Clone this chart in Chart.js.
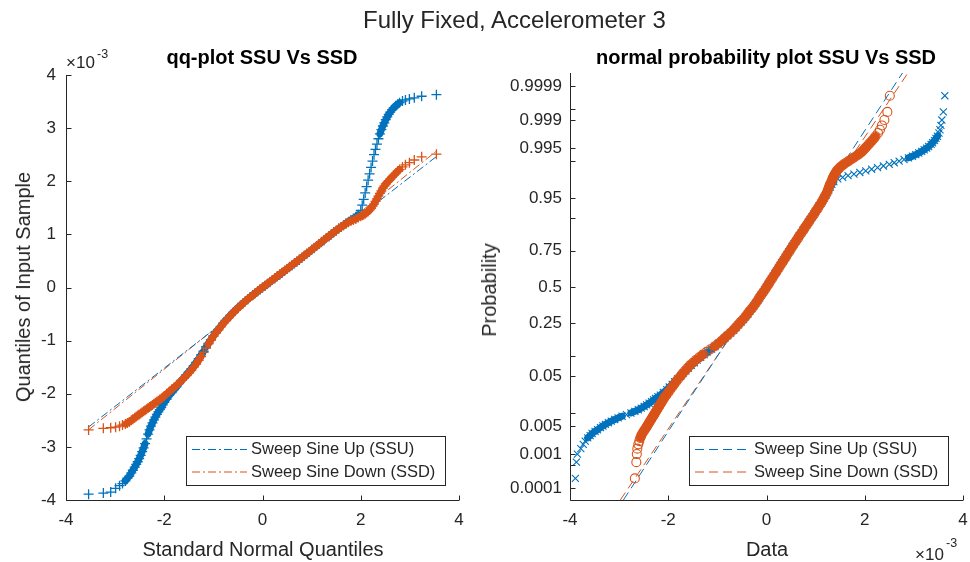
<!DOCTYPE html>
<html>
<head>
<meta charset="utf-8">
<script src="https://cdn.jsdelivr.net/npm/chart.js@4/dist/chart.umd.min.js"></script>
<style>
  body { margin: 0; background: #fff; }
  #fig { position: relative; width: 970px; height: 562px; overflow: hidden;
         font-family: "Liberation Sans", Arial, sans-serif; color: #262626; }
  canvas { position: absolute; top: 0; }
  .t { position: absolute; white-space: nowrap; line-height: 1; }
  .c { transform: translateX(-50%); }
  .rot { transform: translate(-50%, -50%) rotate(-90deg); }
</style>
</head>
<body>
<div id="fig">
  <canvas id="qq" width="485" height="562" style="left:0"></canvas>
  <canvas id="np" width="485" height="562" style="left:485px"></canvas>

  <div class="t" style="left:363px;top:8px;font-size:24px;">Fully Fixed, Accelerometer 3</div>

  <div class="t c" style="left:262px;top:47px;font-size:20px;font-weight:bold;color:#000;">qq-plot SSU Vs SSD</div>
  <div class="t c" style="left:766px;top:47px;font-size:20px;font-weight:bold;color:#000;">normal probability plot SSU Vs SSD</div>

  <div class="t c" style="left:263px;top:539px;font-size:20px;">Standard Normal Quantiles</div>
  <div class="t c" style="left:767px;top:539px;font-size:20px;">Data</div>
  <div class="t rot" style="left:23px;top:287px;font-size:20px;">Quantiles of Input Sample</div>
  <div class="t rot" style="left:489px;top:290px;font-size:20px;">Probability</div>

  <div class="t" style="left:66px;top:54px;font-size:17px;">×10</div>
  <div class="t" style="left:97px;top:48px;font-size:12.5px;">-3</div>
  <div class="t" style="left:915px;top:546px;font-size:17px;">×10</div>
  <div class="t" style="left:946px;top:537px;font-size:12.5px;">-3</div>
</div>

<script>
// Standard normal quantiles of the sorted samples (shared by both series)
const stdQuantiles = [
  -3.54, -3.24, -3.09, -2.99, -2.91, -2.85, -2.79, -2.75, -2.71, -2.67, -2.64, -2.60, -2.57, -2.54, -2.51, -2.48,
  -2.45, -2.42, -2.39, -2.36, -2.33, -2.30, -2.27, -2.24, -2.21, -2.18, -2.15, -2.12, -2.09, -2.06, -2.03, -2.00,
  -1.95, -1.90, -1.85, -1.80, -1.75, -1.70, -1.65, -1.60, -1.55, -1.50, -1.45, -1.40, -1.35, -1.30, -1.25, -1.20,
  -1.15, -1.10, -1.05, -1.00, -0.95, -0.90, -0.85, -0.80, -0.75, -0.70, -0.65, -0.60, -0.55, -0.50, -0.45, -0.40,
  -0.35, -0.30, -0.25, -0.20, -0.15, -0.10, -0.05, 0.00, 0.05, 0.10, 0.15, 0.20, 0.25, 0.30, 0.35, 0.40,
  0.45, 0.50, 0.55, 0.60, 0.65, 0.70, 0.75, 0.80, 0.85, 0.90, 0.95, 1.00, 1.05, 1.10, 1.15, 1.20,
  1.25, 1.30, 1.35, 1.40, 1.45, 1.50, 1.55, 1.60, 1.65, 1.70, 1.75, 1.80, 1.85, 1.90, 1.95,
  2.00, 2.03, 2.06, 2.09, 2.12, 2.15, 2.18, 2.21, 2.24, 2.27, 2.30, 2.33, 2.36, 2.39, 2.42, 2.45,
  2.48, 2.51, 2.54, 2.57, 2.60, 2.64, 2.67, 2.71, 2.75, 2.79, 2.85, 2.91, 2.99, 3.09, 3.24, 3.54
];

// Sweep Sine Up, sorted acceleration samples (x 1e-3)
const ssuSorted = [
  -3.89, -3.87, -3.85, -3.78, -3.73, -3.69, -3.64, -3.59, -3.55, -3.49, -3.44, -3.38, -3.33, -3.28, -3.22, -3.16,
  -3.09, -3.02, -2.94, -2.85, -2.76, -2.68, -2.61, -2.55, -2.49, -2.44, -2.39, -2.34, -2.30, -2.26, -2.21, -2.16,
  -2.10, -2.03, -1.98, -1.92, -1.87, -1.81, -1.75, -1.70, -1.64, -1.59, -1.53, -1.47, -1.41, -1.34, -1.27, -1.20,
  -1.12, -1.05, -0.98, -0.91, -0.85, -0.79, -0.73, -0.67, -0.62, -0.57, -0.52, -0.47, -0.43, -0.38, -0.34, -0.30,
  -0.26, -0.22, -0.18, -0.14, -0.11, -0.07, -0.04, 0.00, 0.03, 0.07, 0.10, 0.14, 0.17, 0.21, 0.24, 0.28,
  0.31, 0.35, 0.38, 0.42, 0.45, 0.49, 0.52, 0.56, 0.60, 0.63, 0.67, 0.71, 0.74, 0.78, 0.82, 0.85,
  0.89, 0.93, 0.96, 1.00, 1.04, 1.07, 1.11, 1.14, 1.17, 1.21, 1.24, 1.27, 1.30, 1.33, 1.37,
  1.45, 1.55, 1.66, 1.78, 1.90, 2.02, 2.14, 2.26, 2.38, 2.50, 2.60, 2.70, 2.80, 2.89, 2.97, 3.04,
  3.10, 3.16, 3.21, 3.26, 3.30, 3.35, 3.38, 3.42, 3.45, 3.48, 3.51, 3.53, 3.55, 3.57, 3.60, 3.63
];

// Sweep Sine Down, sorted acceleration samples (x 1e-3)
const ssdSorted = [
  -2.68, -2.65, -2.64, -2.63, -2.61, -2.59, -2.57, -2.55, -2.53, -2.50, -2.48, -2.45, -2.43, -2.41, -2.39, -2.37,
  -2.35, -2.33, -2.31, -2.29, -2.27, -2.25, -2.23, -2.21, -2.19, -2.17, -2.15, -2.13, -2.11, -2.09, -2.07, -2.04,
  -2.00, -1.96, -1.92, -1.88, -1.84, -1.80, -1.75, -1.71, -1.66, -1.61, -1.56, -1.50, -1.44, -1.37, -1.30, -1.22,
  -1.14, -1.06, -0.99, -0.92, -0.86, -0.80, -0.74, -0.68, -0.63, -0.58, -0.53, -0.48, -0.43, -0.39, -0.35, -0.30,
  -0.26, -0.22, -0.18, -0.15, -0.11, -0.07, -0.03, 0.00, 0.04, 0.07, 0.11, 0.14, 0.18, 0.21, 0.25, 0.28,
  0.32, 0.35, 0.39, 0.42, 0.46, 0.49, 0.53, 0.56, 0.60, 0.64, 0.67, 0.71, 0.75, 0.78, 0.82, 0.86,
  0.89, 0.93, 0.97, 1.00, 1.04, 1.07, 1.11, 1.14, 1.17, 1.20, 1.23, 1.25, 1.27, 1.29, 1.32,
  1.34, 1.36, 1.37, 1.39, 1.41, 1.43, 1.46, 1.49, 1.53, 1.57, 1.62, 1.67, 1.72, 1.77, 1.82, 1.87,
  1.91, 1.95, 1.98, 2.01, 2.04, 2.08, 2.11, 2.15, 2.19, 2.22, 2.27, 2.31, 2.35, 2.40, 2.46, 2.51
];

// Reference lines through the quartiles: [SSU, SSD]
const seriesNames = ['Sweep Sine Up (SSU)', 'Sweep Sine Down (SSD)'];
const fitMean = [-0.08, -0.056];
const fitSigma = [0.719, 0.741];

// Probability axis ticks and their labels
const probTicks  = [0.0001, 0.0005, 0.001, 0.005, 0.01, 0.05, 0.1, 0.25, 0.5, 0.75, 0.9, 0.95, 0.99, 0.995, 0.999, 0.9995, 0.9999];
const probLabels = ['0.0001', '', '0.001', '0.005', '', '0.05', '', '0.25', '0.5', '0.75', '', '0.95', '', '0.995', '0.999', '', '0.9999'];

const BLUE = '#0072BD';
const ORANGE = '#D95319';
const AXIS = '#262626';
const FONT = '"Liberation Sans", Arial, sans-serif';
const colors = [BLUE, ORANGE];

Chart.defaults.font.family = FONT;
Chart.defaults.color = AXIS;

// Inverse standard normal CDF (Acklam) for the probability axis
function normInv(p) {
  const a = [-3.969683028665376e+01, 2.209460984245205e+02, -2.759285104469687e+02, 1.383577518672690e+02, -3.066479806614716e+01, 2.506628277459239e+00];
  const b = [-5.447609879822406e+01, 1.615858368580409e+02, -1.556989798598866e+02, 6.680131188771972e+01, -1.328068155288572e+01];
  const c = [-7.784894002430293e-03, -3.223964580411365e-01, -2.400758277161838e+00, -2.549732539343734e+00, 4.374664141464968e+00, 2.938163982698783e+00];
  const d = [7.784695709041462e-03, 3.224671290700398e-01, 2.445134137142996e+00, 3.754408661907416e+00];
  const pl = 0.02425;
  if (p < pl) {
    const q = Math.sqrt(-2 * Math.log(p));
    return (((((c[0]*q+c[1])*q+c[2])*q+c[3])*q+c[4])*q+c[5]) / ((((d[0]*q+d[1])*q+d[2])*q+d[3])*q+1);
  }
  if (p > 1 - pl) {
    const q = Math.sqrt(-2 * Math.log(1 - p));
    return -(((((c[0]*q+c[1])*q+c[2])*q+c[3])*q+c[4])*q+c[5]) / ((((d[0]*q+d[1])*q+d[2])*q+d[3])*q+1);
  }
  const q = p - 0.5, r = q * q;
  return (((((a[0]*r+a[1])*r+a[2])*r+a[3])*r+a[4])*r+a[5])*q / (((((b[0]*r+b[1])*r+b[2])*r+b[3])*r+b[4])*r+1);
}

// Where thousands of markers overlap they merge into a solid band:
// join neighbouring markers only when they sit closely together.
function bandColor(color) {
  return ctx => {
    const a = ctx.p0, b = ctx.p1;
    const dz = Math.abs(a.parsed.x - b.parsed.x) + Math.abs(a.parsed.y - b.parsed.y);
    const dist = Math.hypot(a.x - b.x, a.y - b.y);
    const near = ctx.chart.canvas.id === 'qq'
      ? Math.abs(a.parsed.x - b.parsed.x) <= 0.051
      : Math.abs(a.parsed.y - b.parsed.y) <= 0.051;
    return near && dist <= 4.5 ? color : 'rgba(0,0,0,0)';
  };
}

// Axis lines with inward tick marks (box off)
const axesLines = {
  id: 'axesLines',
  afterDatasetsDraw(chart) {
    const { ctx, chartArea: a, scales: { x, y } } = chart;
    ctx.save();
    ctx.strokeStyle = AXIS;
    ctx.lineWidth = 1;
    ctx.setLineDash([]);
    ctx.beginPath();
    const L = Math.round(a.left) + 0.5, B = Math.round(a.bottom) + 0.5;
    ctx.moveTo(L, Math.round(a.top)); ctx.lineTo(L, B);
    ctx.lineTo(Math.round(a.right), B);
    x.ticks.forEach(t => {
      const px = Math.round(x.getPixelForValue(t.value)) + 0.5;
      ctx.moveTo(px, B); ctx.lineTo(px, B - 5);
    });
    y.ticks.forEach(t => {
      const py = Math.round(y.getPixelForValue(t.value)) + 0.5;
      ctx.moveTo(L, py); ctx.lineTo(L + 5, py);
    });
    ctx.stroke();
    ctx.restore();
  }
};

// Boxed legend listing the reference-line styles
function boxLegend(box, dash) {
  return {
    id: 'boxLegend',
    afterDraw(chart) {
      const ctx = chart.ctx;
      ctx.save();
      ctx.fillStyle = '#fff';
      ctx.fillRect(box.x, box.y, box.w, box.h);
      ctx.strokeStyle = AXIS;
      ctx.lineWidth = 1;
      ctx.strokeRect(box.x + 0.5, box.y + 0.5, box.w, box.h);
      ctx.font = '16.5px ' + FONT;
      ctx.textBaseline = 'middle';
      seriesNames.forEach((name, i) => {
        const yy = box.y + 13.5 + i * 22.5;
        ctx.strokeStyle = colors[i];
        ctx.setLineDash(dash);
        ctx.beginPath();
        ctx.moveTo(box.x + 6, yy); ctx.lineTo(box.x + 61, yy);
        ctx.stroke();
        ctx.setLineDash([]);
        ctx.fillStyle = AXIS;
        ctx.fillText(name, box.x + 65, yy);
      });
      ctx.restore();
    }
  };
}

const series = [ssuSorted, ssdSorted];
const tickFont = { size: 17 };

// ---------- qq-plot ----------
const qqDatasets = [];
series.forEach((vals, i) => {
  const zMin = stdQuantiles[0], zMax = stdQuantiles[stdQuantiles.length - 1];
  qqDatasets.push({
    label: seriesNames[i] + ' line',
    data: [zMin, zMax].map(z => ({ x: z, y: fitMean[i] + fitSigma[i] * z })),
    showLine: true, pointRadius: 0, borderColor: colors[i], borderWidth: 1,
    borderDash: [8, 3, 2, 3], order: 10 + i
  });
});
series.forEach((vals, i) => {
  qqDatasets.push({
    label: seriesNames[i],
    data: stdQuantiles.map((z, k) => ({ x: z, y: vals[k] })),
    showLine: true, borderWidth: 7, borderCapStyle: 'round', borderJoinStyle: 'round',
    segment: { borderColor: bandColor(colors[i]) },
    pointStyle: 'cross', pointRadius: 5, pointBorderWidth: 1.3,
    borderColor: colors[i], pointBorderColor: colors[i], backgroundColor: colors[i], order: 1 - i
  });
});

new Chart(document.getElementById('qq'), {
  type: 'scatter',
  data: { datasets: qqDatasets },
  options: {
    responsive: false, animation: false, devicePixelRatio: 1, events: [],
    layout: { padding: { left: 0, top: 75, right: 26, bottom: 0 } },
    plugins: { legend: { display: false }, tooltip: { enabled: false } },
    scales: {
      x: {
        type: 'linear', min: -4, max: 4,
        ticks: { stepSize: 2, font: tickFont, color: AXIS, padding: 10, maxRotation: 0, autoSkip: false },
        grid: { display: false, drawTicks: false }, border: { display: false },
        afterFit(s) { s.height = 62; s.paddingLeft = 0; s.paddingRight = 0; }
      },
      y: {
        type: 'linear', min: -4, max: 4,
        ticks: { stepSize: 1, font: tickFont, color: AXIS, padding: 10, autoSkip: false },
        grid: { display: false, drawTicks: false }, border: { display: false },
        afterFit(s) { s.width = 66; s.paddingTop = 0; s.paddingBottom = 0; }
      }
    }
  },
  plugins: [axesLines, boxLegend({ x: 186, y: 436, w: 259, h: 49 }, [8, 3, 2, 3])]
});

// ---------- normal probability plot ----------
const zLow = -3.94, zHigh = 3.96;
const npDatasets = [];
series.forEach((vals, i) => {
  npDatasets.push({
    label: seriesNames[i] + ' line',
    data: [zLow, zHigh].map(z => ({ x: fitMean[i] + fitSigma[i] * z, y: z })),
    showLine: true, pointRadius: 0, borderColor: colors[i], borderWidth: 1,
    borderDash: [9, 5], order: 10 + i
  });
});
npDatasets.push({
  label: seriesNames[0],
  data: stdQuantiles.map((z, k) => ({ x: ssuSorted[k], y: z })),
  showLine: true, borderWidth: 7, borderCapStyle: 'round', borderJoinStyle: 'round',
  segment: { borderColor: bandColor(BLUE) },
  pointStyle: 'crossRot', pointRadius: 5, pointBorderWidth: 1.1,
  borderColor: BLUE, pointBorderColor: BLUE, backgroundColor: BLUE, order: 1
});
npDatasets.push({
  label: seriesNames[1],
  data: stdQuantiles.map((z, k) => ({ x: ssdSorted[k], y: z })),
  showLine: true, borderWidth: 8, borderCapStyle: 'round', borderJoinStyle: 'round',
  segment: { borderColor: bandColor(ORANGE) },
  pointStyle: 'circle', pointRadius: 4.5, pointBorderWidth: 1.1,
  borderColor: ORANGE, pointBorderColor: ORANGE, pointBackgroundColor: 'rgba(0,0,0,0)',
  backgroundColor: 'rgba(0,0,0,0)', order: 0
});

new Chart(document.getElementById('np'), {
  type: 'scatter',
  data: { datasets: npDatasets },
  options: {
    responsive: false, animation: false, devicePixelRatio: 1, events: [],
    layout: { padding: { left: 0, top: 73, right: 7, bottom: 0 } },
    plugins: { legend: { display: false }, tooltip: { enabled: false } },
    scales: {
      x: {
        type: 'linear', min: -4, max: 4,
        ticks: { stepSize: 2, font: tickFont, color: AXIS, padding: 10, maxRotation: 0, autoSkip: false },
        grid: { display: false, drawTicks: false }, border: { display: false },
        afterFit(s) { s.height = 62; s.paddingLeft = 0; s.paddingRight = 0; }
      },
      y: {
        type: 'linear', min: zLow, max: zHigh,
        afterBuildTicks(s) { s.ticks = probTicks.map(p => ({ value: normInv(p) })); },
        ticks: { font: tickFont, color: AXIS, padding: 8, autoSkip: false,
                 callback: (v, idx) => probLabels[idx] },
        grid: { display: false, drawTicks: false }, border: { display: false },
        afterFit(s) { s.width = 85; s.paddingTop = 0; s.paddingBottom = 0; }
      }
    }
  },
  plugins: [axesLines, boxLegend({ x: 204, y: 436, w: 259, h: 49 }, [9, 5])]
});
</script>
</body>
</html>
